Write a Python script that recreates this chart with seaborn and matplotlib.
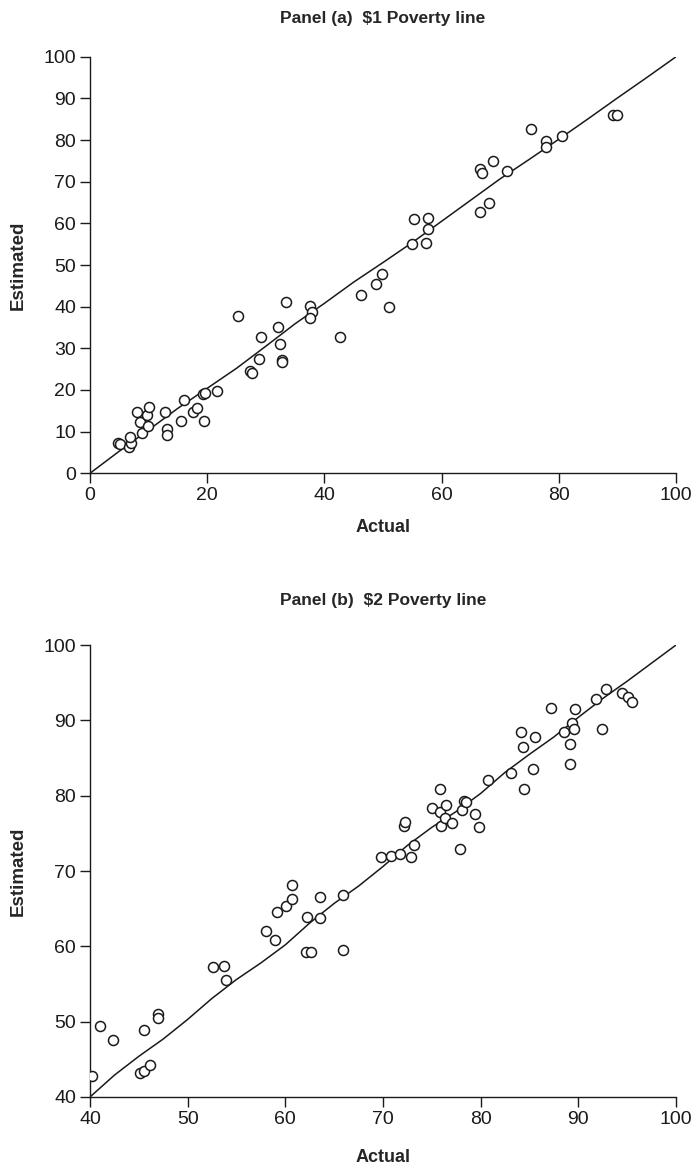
import numpy as np
import pandas as pd
import matplotlib
matplotlib.use("Agg")
import matplotlib.pyplot as plt
import seaborn as sns

# Panel (a): $1 poverty line, actual vs estimated poverty rates (%)
actual_1 = [4.7, 5.2, 6.7, 7.0, 6.9, 8.0, 8.5, 8.9, 9.8, 10.1, 9.9, 12.8, 13.1, 13.1,
            15.6, 16.0, 17.6, 18.3, 19.5, 19.2, 19.6, 21.7,
            25.3, 27.3, 27.6, 28.9, 29.2, 32.1, 32.4, 32.7, 32.7, 33.4, 37.5, 37.8,
            37.5, 42.7, 46.2, 48.8, 49.8, 51.1,
            55.0, 55.3, 57.3, 57.6, 57.6, 66.6, 68.1, 66.6, 66.9, 68.8, 71.1, 75.3,
            77.8, 77.8, 80.5, 89.2, 89.9]
estimated_1 = [7.2, 7.0, 6.2, 7.3, 8.8, 14.6, 12.2, 9.6, 14.0, 16.0, 11.4, 14.6, 10.6, 9.2,
               12.6, 17.6, 14.8, 15.6, 12.6, 19.0, 19.3, 19.8,
               37.7, 24.6, 24.0, 27.5, 32.6, 35.2, 31.0, 27.2, 26.6, 41.1, 40.2, 38.6,
               37.2, 32.6, 42.8, 45.4, 47.8, 39.8,
               55.0, 61.0, 55.4, 58.6, 61.4, 62.7, 64.9, 73.0, 72.2, 75.0, 72.5, 82.7,
               79.7, 78.4, 81.0, 86.1, 86.1]

# Smoothed fit through panel (a)
fit_x_1 = [0, 5, 10, 15, 20, 25, 30, 35, 40, 45, 50, 55, 60, 65, 70, 75, 80, 85, 90, 95, 100]
fit_y_1 = [0, 5.3, 10.4, 15.6, 20.4, 25.2, 30.5, 35.9, 40.8, 45.9, 50.6, 55.4, 60.5, 65.6,
           70.7, 75.4, 80.2, 85.1, 90.1, 95.0, 100]

# Panel (b): $2 poverty line
actual_2 = [40.2, 41.0, 42.4, 45.5, 47.0, 47.0, 45.1, 45.5, 46.1,
            52.6, 53.7, 53.9, 58.0, 58.9, 59.1, 60.1, 60.7, 60.7, 62.2, 62.1, 62.6,
            63.5, 63.6, 65.9, 65.9, 69.8, 70.8, 71.7, 72.9, 73.2, 72.1, 72.3, 75.9,
            77.9, 75.0, 75.8, 75.8, 76.5, 76.3, 77.1, 78.1, 78.3, 78.5, 79.4, 79.8,
            80.8, 83.1, 84.4, 85.4, 84.1, 84.3, 85.6, 87.2, 88.5, 89.1, 89.1, 89.3,
            89.6, 89.7, 92.4, 91.8, 92.8, 94.5, 95.1, 95.5]
estimated_2 = [42.8, 49.4, 47.6, 48.9, 51.0, 50.5, 43.2, 43.5, 44.2,
               57.2, 57.4, 55.5, 62.1, 60.9, 64.5, 65.4, 66.3, 68.2, 63.9, 59.3, 59.3,
               66.5, 63.7, 66.8, 59.5, 71.8, 72.0, 72.2, 71.8, 73.4, 76.0, 76.5, 76.0,
               72.9, 78.4, 77.8, 80.9, 78.8, 77.1, 76.4, 78.1, 79.3, 79.2, 77.6, 75.8,
               82.1, 83.0, 80.9, 83.5, 88.4, 86.5, 87.8, 91.7, 88.4, 86.8, 84.2, 89.6,
               88.9, 91.5, 88.9, 92.9, 94.1, 93.6, 93.1, 92.4]

# Smoothed fit through panel (b)
fit_x_2 = [40, 42.5, 45, 47.5, 50, 52.5, 55, 57.5, 60, 62.5, 65, 67.5, 70, 72.5, 75,
           77.5, 80, 82.5, 85, 87.5, 90, 92.5, 95, 97.5, 100]
fit_y_2 = [40, 42.9, 45.4, 47.7, 50.3, 53.1, 55.6, 57.8, 60.2, 63.1, 65.7, 68.0, 70.6,
           73.4, 75.8, 77.9, 80.3, 83.1, 85.5, 87.8, 90.4, 92.9, 95.2, 97.6, 100]

panels = [
    dict(title="Panel (a)  $1 Poverty line", x=actual_1, y=estimated_1,
         fx=fit_x_1, fy=fit_y_1, lim=(0, 100), xticks=np.arange(0, 101, 20),
         yticks=np.arange(0, 101, 10), tpad=24, xpad=11),
    dict(title="Panel (b)  $2 Poverty line", x=actual_2, y=estimated_2,
         fx=fit_x_2, fy=fit_y_2, lim=(40, 100), xticks=np.arange(40, 101, 10),
         yticks=np.arange(40, 101, 10), tpad=29, xpad=15),
]

sns.set_style("ticks")
plt.rcParams["font.family"] = ["Liberation Sans", "DejaVu Sans"]

fig = plt.figure(figsize=(6.96, 11.70), dpi=100)
rects = [[0.1293, 0.5955, 0.842, 0.356], [0.1293, 0.0624, 0.842, 0.3863]]

for rect, p in zip(rects, panels):
    ax = fig.add_axes(rect)
    pts = pd.DataFrame({"Actual": p["x"], "Estimated": p["y"]})
    fit = pd.DataFrame({"Actual": p["fx"], "Estimated": p["fy"]})
    sns.lineplot(data=fit, x="Actual", y="Estimated", ax=ax, color="#1a1a1a",
                 linewidth=1.1, sort=False)
    sns.scatterplot(data=pts, x="Actual", y="Estimated", ax=ax, s=52,
                    facecolor="white", edgecolor="#1a1a1a", linewidth=1.1, zorder=3)
    ax.set_xlim(*p["lim"])
    ax.set_ylim(*p["lim"])
    ax.set_xticks(p["xticks"])
    ax.set_yticks(p["yticks"])
    ax.tick_params(axis="both", direction="out", length=7, width=1.0,
                   labelsize=14, colors="#1a1a1a", pad=3)
    for side in ("top", "right"):
        ax.spines[side].set_visible(False)
    for side in ("left", "bottom"):
        ax.spines[side].set_linewidth(1.0)
        ax.spines[side].set_color("#1a1a1a")
    ax.set_xlabel("Actual", fontsize=13, fontweight="bold", labelpad=p["xpad"])
    ax.set_ylabel("Estimated", fontsize=13.5, fontweight="bold", labelpad=12)
    ax.set_title(p["title"], fontsize=12.5, fontweight="bold", pad=p["tpad"])

fig.savefig("out.png", dpi=100, facecolor="white")
